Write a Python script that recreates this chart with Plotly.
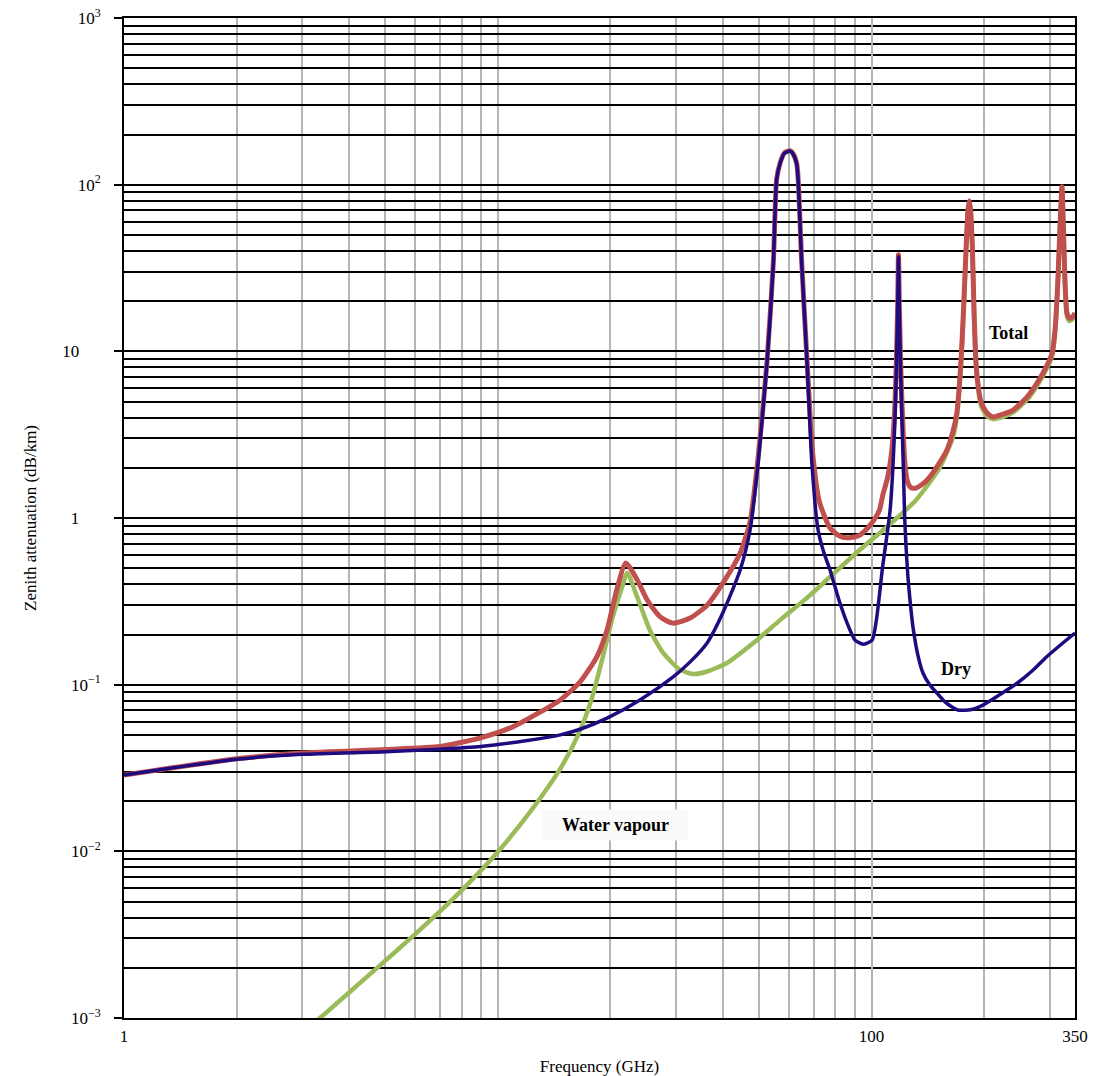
import math
import plotly.graph_objects as go

# ---------------- data ----------------
freq_dry = [1, 2, 3, 5, 7, 9, 12, 14.7, 16.6, 19.6, 24, 29.4, 32.7, 36.3, 40, 44.5,
            47.3, 49.7, 52.5, 54.6, 55.7, 56.9, 58.4, 60.5, 61.5, 63, 63.6, 65, 67.2,
            69.2, 71.9, 74.5, 77.4, 81.5, 86, 90.3, 94.9, 100.3, 103, 107, 110, 112,
            114, 115.5, 116.5, 117.4, 118, 118.6, 119.5, 120.5, 121.6, 122.6, 123.5,
            125, 126.7, 129, 133, 137.3, 143, 149.6, 158, 170, 185, 199, 220, 245, 270,
            294, 320, 350]
att_dry = [0.0287, 0.0357, 0.0382, 0.0396, 0.041, 0.0425, 0.0462, 0.05, 0.054, 0.063,
           0.081, 0.111, 0.137, 0.178, 0.27, 0.488, 0.847, 2.14, 8.5, 33.9, 107, 134,
           154, 159, 154, 134, 107, 33.9, 8.5, 2.14, 0.85, 0.62, 0.488, 0.33, 0.234,
           0.185, 0.175, 0.185, 0.245, 0.51, 0.8, 1.1, 2.0, 4.0, 8.0, 18, 37, 18, 8.0,
           4.0, 2.0, 1.0, 0.7, 0.45, 0.32, 0.222, 0.15, 0.117, 0.1, 0.089, 0.078,
           0.0705, 0.071, 0.0757, 0.087, 0.102, 0.122, 0.147, 0.173, 0.204]

freq_total = [1, 2, 3, 5, 7, 9, 11, 13, 14.7, 16.6, 18.4, 19.6, 20.8, 22.0, 23.6, 25.1,
              27.2, 29.4, 32.7, 36.3, 40, 44.5, 47.3, 49.7, 52.5, 54.6, 55.7, 56.9, 58.4,
              60.5, 61.5, 63, 63.6, 65, 67.2, 69.5, 72.5, 77.4, 82, 86, 92, 95, 100, 105,
              107, 110, 112, 114, 115.5, 116.5, 117.4, 118, 118.6, 119.5, 120.5, 121.6,
              122.6, 124.4, 127, 130.6, 137, 143, 152, 159, 165, 169, 173, 176, 179, 181,
              182.5, 184, 186, 188, 190, 192, 196, 203, 211, 225, 239, 260, 277, 295,
              304, 310, 315, 319, 323, 326, 329, 333, 338, 344, 350]
att_total = [0.0287, 0.0359, 0.0389, 0.0408, 0.0425, 0.048, 0.056, 0.0686, 0.081, 0.104,
             0.147, 0.213, 0.37, 0.537, 0.425, 0.322, 0.255, 0.234, 0.251, 0.30, 0.407,
             0.617, 0.95, 2.3, 8.7, 34.5, 108, 135, 155, 160, 155, 135, 108, 34.5, 8.7,
             2.5, 1.25, 0.87, 0.78, 0.76, 0.78, 0.82, 0.93, 1.12, 1.36, 1.7, 2.1, 3.0,
             5.0, 9.0, 19, 38, 19, 9.0, 5.0, 3.1, 2.2, 1.69, 1.53, 1.51, 1.6, 1.76, 2.15,
             2.56, 3.3, 4.26, 8, 17, 42, 70, 80, 70, 42, 17, 9, 6.7, 5.0, 4.3, 4.04, 4.2,
             4.44, 5.3, 6.45, 8.3, 9.76, 14, 26.8, 55, 97, 55, 26.8, 17, 15.8, 16, 17]

freq_wv = [3.2, 3.345, 3.94, 4.84, 5.94, 7.0, 8.26, 9.93, 11.47, 13.1, 14.67, 16.4, 17.8,
           19.1, 20.3, 21.5, 22.2, 23.6, 25.5, 27.7, 30.7, 33.3, 36.3, 41, 49.3, 56.9,
           68, 77.4, 86, 94.9, 109.6, 131.4, 152, 165, 169, 173, 176, 179, 181, 182.5,
           184, 186, 188, 190, 192, 196, 203, 211, 225, 239, 260, 277, 295, 304, 310,
           315, 319, 323, 326, 329, 333, 338, 344, 350]
att_wv = [0.00092, 0.001, 0.00138, 0.00207, 0.00311, 0.00436, 0.00627, 0.00975, 0.0144,
          0.0214, 0.0311, 0.05, 0.081, 0.147, 0.255, 0.385, 0.468, 0.336, 0.213, 0.155,
          0.123, 0.116, 0.12, 0.135, 0.185, 0.244, 0.34, 0.443, 0.55, 0.67, 0.88, 1.28,
          2.0, 3.05, 4.0, 7.6, 16.5, 41, 69, 79, 69, 41, 16.5, 8.6, 6.4, 4.75, 4.1, 3.92,
          4.05, 4.3, 5.1, 6.2, 8.0, 9.4, 13.5, 26, 54, 96, 54, 26, 16.3, 15.2, 15.5, 16.5]

pad = "\u00a0" * 5
y_tick_vals = [1e-3, 1e-2, 1e-1, 1, 10, 100, 1000]
y_tick_text = ["10<sup>\u22123</sup>", "10<sup>\u22122</sup>", "10<sup>\u22121</sup>",
               "1" + pad, "10" + pad, "10<sup>2</sup>", "10<sup>3</sup>"]
x_tick_vals = [1, 100, 350]
x_tick_text = ["1", "100", "350"]

x_minor = [d * 10 ** k for k in range(3) for d in range(1, 10)
           if 1 < d * 10 ** k <= 350]
y_minor = [d * 10.0 ** k for k in range(-3, 3) for d in range(2, 10)]

SERIF = "Liberation Serif"
RED = "#c0504d"
GREEN = "#9bbb59"
BLUE = "#1f0a80"
VGRID = "#b5b5b5"

fig = go.Figure()
fig.add_trace(go.Scatter(x=freq_wv, y=att_wv, mode="lines", name="Water vapour",
                         line=dict(color=GREEN, width=4.5, shape="spline", smoothing=0.6)))
fig.add_trace(go.Scatter(x=freq_total, y=att_total, mode="lines", name="Total",
                         line=dict(color=RED, width=5, shape="spline", smoothing=0.6)))
fig.add_trace(go.Scatter(x=freq_dry, y=att_dry, mode="lines", name="Dry",
                         line=dict(color=BLUE, width=3.5, shape="spline", smoothing=0.6)))

fig.update_layout(
    width=1102, height=1076,
    margin=dict(l=124, r=27, t=18, b=58),
    paper_bgcolor="white", plot_bgcolor="white",
    showlegend=False,
    font=dict(family=SERIF, color="black"),
    xaxis=dict(
        type="log", range=[0, math.log10(350)], automargin=False,
        tickmode="array", tickvals=x_tick_vals, ticktext=x_tick_text,
        ticks="", tickfont=dict(family=SERIF, size=17, color="black"),
        ticklabelstandoff=2,
        showgrid=True, gridcolor=VGRID, gridwidth=2.2,
        minor=dict(tickmode="array", tickvals=x_minor, showgrid=True,
                   gridcolor=VGRID, gridwidth=2, ticks=""),
        showline=True, linecolor="black", linewidth=2, mirror=True, zeroline=False,
        title=dict(text="Frequency (GHz)", font=dict(family=SERIF, size=17, color="black"),
                   standoff=20),
    ),
    yaxis=dict(
        type="log", range=[-3, 3], automargin=False,
        tickmode="array", tickvals=y_tick_vals, ticktext=y_tick_text,
        ticks="outside", ticklen=8, tickwidth=1.5, tickcolor="black",
        tickfont=dict(family=SERIF, size=17, color="black"),
        ticklabelstandoff=10,
        showgrid=True, gridcolor="black", gridwidth=1.5,
        minor=dict(tickmode="array", tickvals=y_minor, showgrid=True,
                   gridcolor="black", gridwidth=1.5, ticks=""),
        showline=True, linecolor="black", linewidth=2, mirror=True, zeroline=False,
        title=dict(text="Zenith attenuation (dB/km)",
                   font=dict(family=SERIF, size=17, color="black"), standoff=21),
    ),
    annotations=[
        dict(x=math.log10(231.7), y=math.log10(12.9), xref="x", yref="y",
             text="<b>Total</b>", showarrow=False,
             font=dict(family=SERIF, size=18, color="black")),
        dict(x=math.log10(168), y=math.log10(0.124), xref="x", yref="y",
             text="<b>Dry</b>", showarrow=False,
             font=dict(family=SERIF, size=18, color="black")),
        dict(x=math.log10(20.6), y=math.log10(0.0144), xref="x", yref="y",
             text="<b>Water vapour</b>", showarrow=False, bgcolor="#fafafa",
             borderpad=5, width=135,
             font=dict(family=SERIF, size=18, color="black")),
    ],
)

fig.write_html("out.html", config={"displayModeBar": False},
               post_script="document.body.style.margin='0';document.body.style.overflow='hidden';")
